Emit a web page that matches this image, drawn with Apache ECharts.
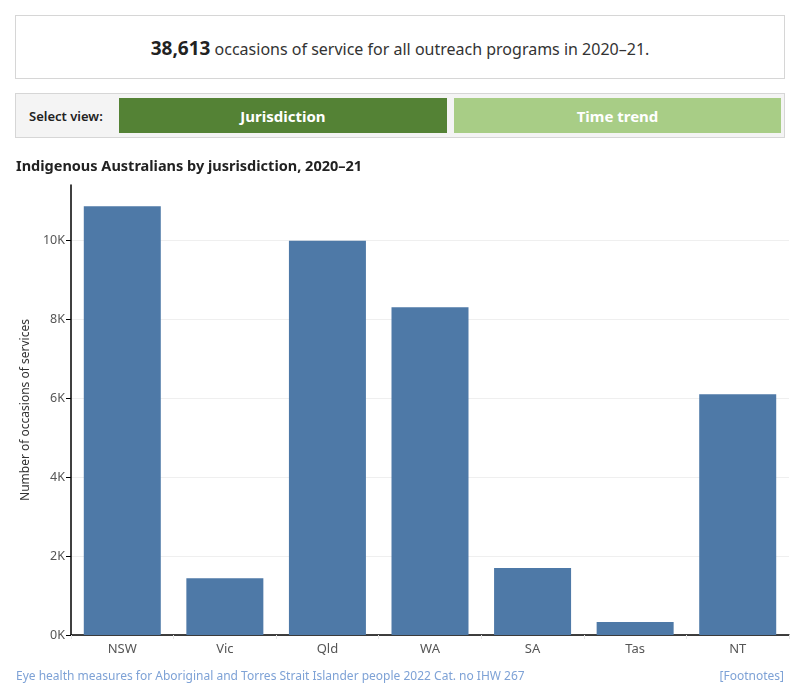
<!DOCTYPE html>
<html>
<head>
<meta charset="utf-8">
<script src="https://cdn.jsdelivr.net/npm/echarts@6/dist/echarts.min.js"></script>
<style>
  body { margin: 0; background: #fff; font-family: "Noto Sans", sans-serif; }
  .wrap { position: relative; width: 800px; height: 700px; }
  .summary {
    position: absolute; left: 15px; top: 15px; width: 768px; height: 62px;
    border: 1px solid #d6d6d6; text-align: center; line-height: 64px;
    font-size: 16px; color: #333;
  }
  .summary b { font-size: 19px; color: #222; }
  .selector {
    position: absolute; left: 15px; top: 93px; width: 768px; height: 43px;
    border: 1px solid #d6d6d6; background: #f4f4f4;
  }
  .selector .lbl { position: absolute; left: 13px; top: 0; line-height: 45px; font-size: 13px; font-weight: 600; color: #222; }
  .btn { position: absolute; top: 4px; height: 35px; line-height: 37px; text-align: center; color: #fff; font-size: 15px; font-weight: 700; }
  .btn.on { left: 103px; width: 328px; background: #548235; }
  .btn.off { left: 438px; width: 327px; background: #a8cd86; }
  .title { position: absolute; left: 16px; top: 155px; font-size: 14.5px; font-weight: 700; color: #222; }
  #chart { position: absolute; left: 0; top: 150px; width: 800px; height: 550px; }
  .foot { position: absolute; top: 667px; font-size: 12px; color: #7ea2d6; }
</style>
</head>
<body>
<div class="wrap">
  <div class="summary"><b>38,613</b> occasions of service for all outreach programs in 2020–21.</div>
  <div class="selector">
    <div class="lbl">Select view:</div>
    <div class="btn on">Jurisdiction</div>
    <div class="btn off">Time trend</div>
  </div>
  <div id="chart"></div>
  <div class="title">Indigenous Australians by jusrisdiction, 2020–21</div>
  <div class="foot" style="left:16px">Eye health measures for Aboriginal and Torres Strait Islander people 2022 Cat. no IHW 267</div>
  <div class="foot" style="right:16px">[Footnotes]</div>
</div>
<script>
  // jurisdictions and occasions of service
  const jurisdictions = ['NSW', 'Vic', 'Qld', 'WA', 'SA', 'Tas', 'NT']
  const occasions = [10860, 1440, 9990, 8300, 1700, 330, 6100]
  const yTicks = [0, 2000, 4000, 6000, 8000, 10000]

  const myChart = echarts.init(document.getElementById('chart'))
  const option = {
    animation: false,
    grid: { left: 71, right: 11, top: 35, bottom: 65 },
    xAxis: {
      type: 'category',
      data: jurisdictions,
      axisLine: { lineStyle: { color: '#000', width: 1.5 } },
      axisTick: { show: true, length: 4, lineStyle: { color: '#e6e6e6' } },
      axisLabel: { color: '#555', fontSize: 13, margin: 8, fontFamily: 'Noto Sans' }
    },
    yAxis: {
      type: 'value',
      min: 0,
      max: 11400,
      name: 'Number of occasions of services',
      nameLocation: 'middle',
      nameGap: 37,
      nameTextStyle: { color: '#333', fontSize: 12, fontFamily: 'Noto Sans' },
      axisLine: { show: true, lineStyle: { color: '#000', width: 1.5 } },
      axisTick: { show: true, length: 5, customValues: yTicks, lineStyle: { color: '#000' } },
      axisLabel: {
        customValues: yTicks,
        color: '#555', fontSize: 12.5, margin: 6, fontFamily: 'Noto Sans',
        formatter: v => (v / 1000) + 'K'
      },
      splitLine: { lineStyle: { color: '#efefef' } }
    },
    series: [{
      type: 'bar',
      data: occasions,
      barWidth: 77,
      itemStyle: { color: '#4e79a7' }
    }]
  }
  myChart.setOption(option)
</script>
</body>
</html>
